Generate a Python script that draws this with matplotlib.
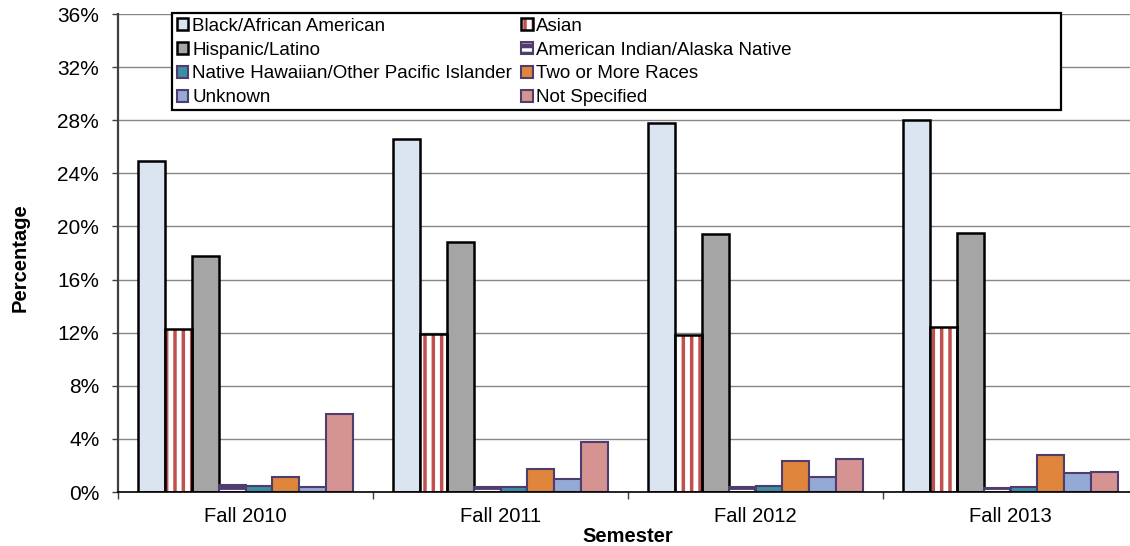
import numpy as np
import matplotlib
matplotlib.use("Agg")
import matplotlib.pyplot as plt
from matplotlib.patches import Rectangle
from matplotlib.ticker import FixedLocator, FuncFormatter

# ---------------------------------------------------------------------
# data (percent of students by race/ethnicity)
# ---------------------------------------------------------------------
semesters = ["Fall 2010", "Fall 2011", "Fall 2012", "Fall 2013"]

groups = [
    "Black/African American",
    "Asian",
    "Hispanic/Latino",
    "American Indian/Alaska Native",
    "Native Hawaiian/Other Pacific Islander",
    "Two or More Races",
    "Unknown",
    "Not Specified",
]

black = [24.9, 26.6, 27.8, 28.0]
asian = [12.3, 11.9, 11.8, 12.4]
hispanic = [17.8, 18.8, 19.4, 19.5]
am_indian = [0.55, 0.4, 0.4, 0.3]
hawaiian = [0.45, 0.4, 0.45, 0.4]
two_more = [1.1, 1.75, 2.35, 2.8]
unknown = [0.4, 1.0, 1.1, 1.4]
not_spec = [5.9, 3.8, 2.5, 1.5]

values = [black, asian, hispanic, am_indian, hawaiian, two_more, unknown, not_spec]

yticks = list(range(0, 37, 4))

# ---------------------------------------------------------------------
# style
# ---------------------------------------------------------------------
face = ["#DBE5F1", "#C0504D", "#A5A5A5", "#FFFFFF",
        "#3B8EA5", "#E0853C", "#95A9D5", "#D59392"]
purple = "#4E3D6D"
edge = ["black", "black", "black", purple, purple, purple, purple, purple]

plt.rcParams["font.family"] = ["Liberation Sans", "DejaVu Sans"]
plt.rcParams["hatch.linewidth"] = 3.5

fig = plt.figure(figsize=(11.3, 5.46), dpi=100)
ax = fig.add_axes([118 / 1130, 1 - 492 / 546, 1020 / 1130, 478 / 546])

x = np.arange(len(semesters))
width = 0.105

handles = {}
for i, (name, vals) in enumerate(zip(groups, values)):
    pos = x + (i - 3.5) * width + 0.5
    if name == "Asian":
        h1 = ax.bar(pos, vals, width, color=face[i], edgecolor="white",
                    hatch="||", linewidth=0, zorder=3)
        h2 = ax.bar(pos, vals, width, fill=False, edgecolor=edge[i],
                    linewidth=1.8, zorder=4)
        handles[name] = (h1, h2)
    elif name == "American Indian/Alaska Native":
        h = ax.bar(pos, vals, width, color=face[i], edgecolor=edge[i],
                   hatch="--", linewidth=1.5, zorder=3)
        handles[name] = h
    else:
        h = ax.bar(pos, vals, width, color=face[i], edgecolor=edge[i],
                   linewidth=1.8 if edge[i] == "black" else 1.5, zorder=3)
        handles[name] = h

ax.set_xlim(0, len(semesters))
ax.set_ylim(0, 36)

ax.yaxis.set_major_locator(FixedLocator(yticks))
ax.yaxis.set_major_formatter(FuncFormatter(lambda v, p: f"{int(v)}%"))
ax.tick_params(axis="y", direction="out", length=4.5, width=1,
               pad=9, labelsize=15, color="#404040")

ax.set_xticks(x + 0.5)
ax.set_xticklabels(semesters)
ax.set_xticks(np.arange(len(semesters) + 1), minor=True)
ax.tick_params(axis="x", which="major", length=0, pad=11, labelsize=14.5)
ax.tick_params(axis="x", which="minor", direction="out", length=5,
               width=1, color="#404040")

ax.grid(axis="y", color="#868686", linewidth=1.0, zorder=0)
ax.set_axisbelow(True)

for s in ["top", "right"]:
    ax.spines[s].set_visible(False)
ax.spines["left"].set_color("#404040")
ax.spines["left"].set_linewidth(1.6)
ax.spines["bottom"].set_color("black")
ax.spines["bottom"].set_linewidth(1.2)
ax.spines["bottom"].set_zorder(5)

ax.set_ylabel("Percentage", fontsize=14.5, fontweight="bold")
ax.set_xlabel("Semester", fontsize=14.5, fontweight="bold")
ax.yaxis.set_label_coords(-0.087, 0.49)
ax.xaxis.set_label_coords(0.5, -0.073)

# legend box (white, covers the gridlines)
box = Rectangle((172 / 1130, 1 - 110 / 546), (1061 - 172) / 1130, 97 / 546,
                transform=fig.transFigure, facecolor="white",
                edgecolor="black", linewidth=1.6, zorder=6)
fig.patches.append(box)

order = [0, 2, 4, 6, 1, 3, 5, 7]
leg = fig.legend([handles[groups[k]] for k in order],
                 [groups[k] for k in order],
                 ncol=2, loc="upper left",
                 bbox_to_anchor=(177 / 1130, 1 - 18 / 546),
                 bbox_transform=fig.transFigure,
                 frameon=False, prop={"family": "Liberation Sans", "size": 13.5},
                 borderpad=0, borderaxespad=0,
                 handlelength=0.6, handleheight=0.6,
                 handletextpad=0.2, labelspacing=0.36,
                 columnspacing=0.5)
leg.set_zorder(7)

fig.savefig("out.png", dpi=100)
